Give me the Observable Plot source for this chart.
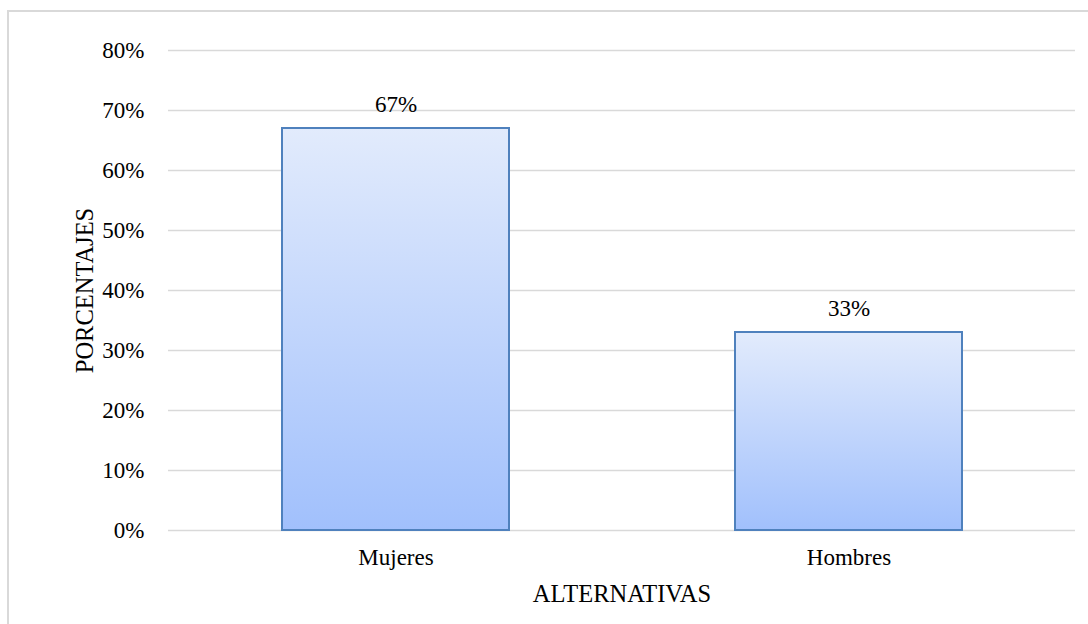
<!DOCTYPE html>
<html>
<head>
<meta charset="utf-8">
<script src="https://cdn.jsdelivr.net/npm/d3@7"></script>
<script src="https://cdn.jsdelivr.net/npm/@observablehq/plot@0.6"></script>
<style>
  html, body { margin: 0; padding: 0; background: #fff; }
  #wrap { position: relative; width: 1088px; height: 624px; overflow: hidden; }
  #frame { position: absolute; left: 7px; top: 10px; width: 1200px; height: 800px;
           border-left: 2px solid #d9d9d9; border-top: 2px solid #d9d9d9; box-sizing: border-box; }
  #chart { position: absolute; left: 0; top: 0; }
  #chart svg, #chart svg text { font-family: "Liberation Serif", "Times New Roman", serif !important; }
</style>
</head>
<body>
<div id="wrap"><div id="frame"></div><div id="chart"></div></div>
<script>
const categories = ["Mujeres", "Hombres"];
const values = [0.67, 0.33];
const yTicks = [0, 0.1, 0.2, 0.3, 0.4, 0.5, 0.6, 0.7, 0.8];
const xLabel = "ALTERNATIVAS";
const yLabel = "PORCENTAJES";

const data = categories.map((c, i) => ({cat: c, val: values[i]}));
const pct = d3.format(".0%");
const FONT = "'Liberation Serif', 'Times New Roman', serif";
const FS = 23;

const plot = Plot.plot({
  width: 1088,
  height: 624,
  marginLeft: 168,
  marginRight: 13,
  marginTop: 50,
  marginBottom: 94,
  style: {fontFamily: FONT, fontSize: FS + "px", color: "#000", background: "transparent"},
  x: {domain: categories, paddingInner: 0.5, paddingOuter: 0.25, label: null},
  y: {domain: [0, 0.8], label: null},
  marks: [
    Plot.ruleY(yTicks, {stroke: "#d9d9d9", strokeWidth: 1.5, strokeOpacity: 1}),
    Plot.barY(data, {x: "cat", y: "val", fill: "url(#barGrad)", stroke: "#4f81bd", strokeWidth: 2}),
    Plot.text(data, {x: "cat", y: "val", text: d => pct(d.val), dy: -17, lineAnchor: "bottom", fill: "#000", fontSize: FS, fontFamily: FONT}),
    Plot.axisY({ticks: yTicks, tickFormat: pct, tickSize: 0, tickPadding: 24, label: null, fontSize: FS, fill: "#000", fontFamily: FONT}),
    Plot.axisX({tickSize: 0, tickPadding: 18, label: null, fontSize: FS, fill: "#000", fontFamily: FONT}),
    Plot.text([xLabel], {frameAnchor: "bottom", lineAnchor: "middle", dy: 64, text: d => d, fontSize: 24.5, fill: "#000", fontFamily: FONT}),
    Plot.text([yLabel], {frameAnchor: "left", textAnchor: "middle", dx: -83, rotate: -90, text: d => d, fontSize: 24.5, fill: "#000", fontFamily: FONT})
  ]
});

const svg = d3.select(plot);
const defs = svg.insert("defs", ":first-child");
const grad = defs.append("linearGradient").attr("id", "barGrad")
  .attr("x1", 0).attr("y1", 0).attr("x2", 0).attr("y2", 1);
grad.append("stop").attr("offset", "0%").attr("stop-color", "#e2ebfc");
grad.append("stop").attr("offset", "100%").attr("stop-color", "#a1c0fc");

document.getElementById("chart").appendChild(plot);
</script>
</body>
</html>
